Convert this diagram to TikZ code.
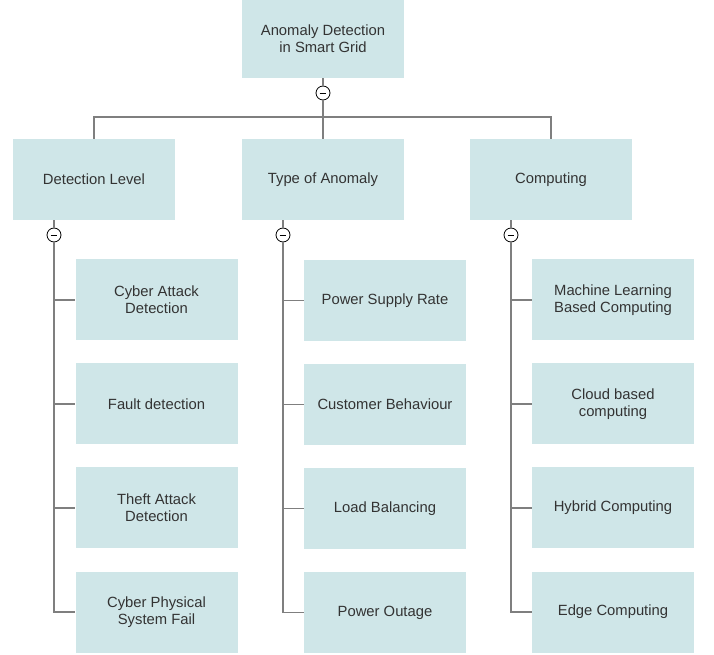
\documentclass[tikz,border=0pt]{standalone}
\usepackage{fontspec}
\setmainfont{Liberation Sans}
\definecolor{boxfill}{HTML}{CFE6E8}
\definecolor{txt}{HTML}{333333}
\definecolor{ln}{HTML}{7F7F7F}
\begin{document}
\begin{tikzpicture}[x=0.75pt,y=-0.75pt,
  box/.style={draw=none,fill=boxfill,minimum width=121.5pt,minimum height=60.75pt,
    align=center,text=txt,font=\fontsize{11.1}{12.6}\selectfont,inner sep=0pt},
  rootbox/.style={box,minimum height=58.5pt},
  toggle/.style={circle,draw=black,fill=white,minimum size=10.5pt,inner sep=0pt,line width=0.6pt,
    path picture={\draw[line width=0.6pt] ([xshift=-2.6pt]path picture bounding box.center) -- ([xshift=2.6pt]path picture bounding box.center);}},
  conn/.style={draw=ln,line width=0.9pt}]
\useasboundingbox (0,0) rectangle (714,655);
\node[rootbox] (root) at (323,39) {Anomaly Detection\\in Smart Grid};
\node[box] (dl) at (94,179.5) {Detection Level};
\node[box] (ta) at (323,179.5) {Type of Anomaly};
\node[box] (cp) at (551,179.5) {Computing};
% column 1
\node[box] (a1) at (156.5,300) {Cyber Attack\\Detection};
\node[box] (a2) at (156.5,404) {Fault detection};
\node[box] (a3) at (156.5,508) {Theft Attack\\Detection};
\node[box] (a4) at (156.5,612) {Cyber Physical\\System Fail};
% column 2
\node[box] (b1) at (385,300.5) {Power Supply Rate};
\node[box] (b2) at (385,404.5) {Customer Behaviour};
\node[box] (b3) at (385,508.5) {Load Balancing};
\node[box] (b4) at (385,612.5) {Power Outage};
% column 3
\node[box] (c1) at (613,300) {Machine Learning\\Based Computing};
\node[box] (c2) at (613,404) {Cloud based\\computing};
\node[box] (c3) at (613,508) {Hybrid Computing};
\node[box] (c4) at (613,612) {Edge Computing};
% toggles
\node[toggle] (t0) at (323,93) {};
\node[toggle] (t1) at (54,235) {};
\node[toggle] (t2) at (283,235) {};
\node[toggle] (t3) at (511,235) {};
\coordinate (h) at (323,117);
% connectors top
\draw[conn] (root.south) -- (t0.north);
\draw[conn] (t0.south) -- (h);
\draw[conn] (dl.north) |- (h) -| (cp.north);
\draw[conn] (h) -- (ta.north);
% connectors level 2
\draw[conn] (t1.north) -- (t1.north |- dl.south);
\draw[conn] (t2.north) -- (t2.north |- ta.south);
\draw[conn] (t3.north) -- (t3.north |- cp.south);
\foreach \c/\t in {a/t1,b/t2,c/t3}{
  \draw[conn] (\t.south) |- (\c4.west);
  \foreach \i in {1,2,3}{
    \draw[conn] (\t.south |- \c\i.west) -- (\c\i.west);
  }
}
\end{tikzpicture}
\end{document}
